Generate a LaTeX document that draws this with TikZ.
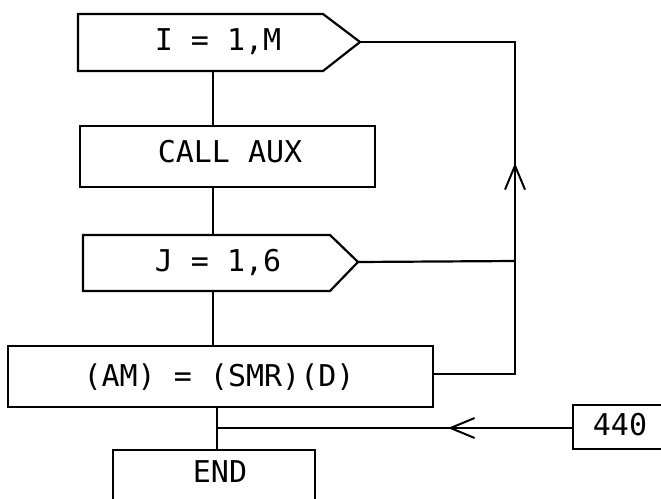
\documentclass[tikz,border=0pt]{standalone}
\usepackage{fontspec}
\newfontfamily\chartfont{DejaVu Sans Mono}
\usetikzlibrary{arrows.meta,decorations.markings}
\tikzset{
  ln/.style={line width=2.2pt, line join=miter},
  body/.style={rectangle, inner sep=0pt, outer sep=0pt},
  txt/.style={inner sep=0pt, font=\chartfont\fontsize{30}{34}\selectfont},
  midarrow/.style={postaction={decorate, decoration={markings,
     mark=at position #1 with {\arrow{Straight Barb[length=24pt,width=20pt,line width=2pt]}}}}}
}
\begin{document}
\begin{tikzpicture}[x=1pt,y=-1pt]
\clip (0,0) rectangle (661,498);
\fill[white] (0,0) rectangle (661,498);
% bodies
\node[body, minimum width=245pt, minimum height=57pt] (b1) at (200.5,42.5) {};
\node[body, minimum width=295pt, minimum height=61pt] (b2) at (227.5,156.5) {};
\node[body, minimum width=247pt, minimum height=56pt] (b3) at (206.5,263) {};
\node[body, minimum width=425pt, minimum height=61pt] (b4) at (220.5,376.5) {};
\node[body, minimum width=202pt, minimum height=70pt] (b5) at (214,485) {};
\node[body, minimum width=120pt, minimum height=44pt] (b6) at (633,427) {};
\coordinate (tip1) at (360,42);
\coordinate (tip3) at (358,262);
% outlines
\draw[ln] (b1.north west) -- (b1.north east) -- (tip1) -- (b1.south east) -- (b1.south west) -- cycle;
\draw[ln] (b2.north west) rectangle (b2.south east);
\draw[ln] (b3.north west) -- (b3.north east) -- (tip3) -- (b3.south east) -- (b3.south west) -- cycle;
\draw[ln] (b4.north west) rectangle (b4.south east);
\draw[ln] (b5.north west) rectangle (b5.south east);
\draw[ln] (b6.north west) rectangle (b6.south east);
% texts
\node[txt] (t1) at (218,42) {I = 1,M};
\node[txt] (t2) at (230,152) {CALL AUX};
\node[txt] (t3) at (218,262) {J = 1,6};
\node[txt] (t4) at (219,377) {(AM) = (SMR)(D)};
\node[txt] (t5) at (220,472) {END};
\node[txt] (t6) at (620,425) {440};
% spine
\coordinate (sp) at (213,0);
\coordinate (sp2) at (217,0);
\draw[ln] (b1.south -| sp) -- (b2.north -| sp);
\draw[ln] (b2.south -| sp) -- (b3.north -| sp);
\draw[ln] (b3.south -| sp) -- (b4.north -| sp);
\draw[ln] (b4.south -| sp2) -- (b5.north -| sp2);
% loop
\coordinate (r1) at (515,374);
\coordinate (r2) at (515,42);
\coordinate (r3) at (515,261);
\draw[ln, midarrow=293pt] (b4.east |- r1) -- (r1) -- (r2) -- (tip1);
\draw[ln] (tip3) -- (r3);
% 440 connector
\coordinate (jn) at (217,428);
\draw[ln, midarrow=125pt] (b6.west |- jn) -- (jn);
\end{tikzpicture}
\end{document}
